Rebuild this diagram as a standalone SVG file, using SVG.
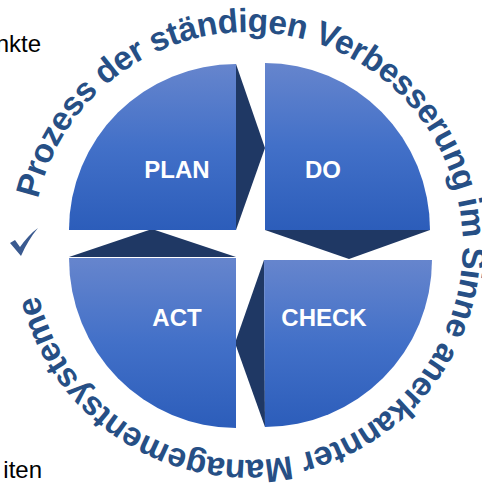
<svg xmlns="http://www.w3.org/2000/svg" width="482" height="486" viewBox="0 0 482 486">
<style>
text{font-family:"Liberation Sans",Arial,sans-serif}
.q{fill:url(#g)}
.a{fill:#1f3864}
.l{fill:#fff;font-weight:700;font-size:24px;text-anchor:middle}
.b{fill:#000;font-size:24px;text-anchor:end}
.r{fill:#264f85;font-weight:700;font-size:33.5px}
</style>
<defs>
<linearGradient id="g" x1="0" y1="0" x2="0" y2="1"><stop offset="0" stop-color="#6685cd"/><stop offset=".5" stop-color="#4270c8"/><stop offset="1" stop-color="#2c5dba"/></linearGradient>
<path id="ring" d="M38 199A215 214 0 1 1 38 293"/>
</defs>
<rect width="482" height="486" fill="#fff"/>
<text class="b" x="41" y="52">nkte</text>
<text class="b" x="42" y="478">iten</text>
<path d="M10 243L15 240L20 247C25 240 31 233 38 228C31 236 26 245 21 256Z" fill="#3a5a90"/>
<g id="connectors">
<path class="a" d="M236 64L265 148L236 230Z"/>
<path class="a" d="M265 230H430L349 259Z"/>
<path class="a" d="M264 260L235 343L265 427Z"/>
<path class="a" d="M69 257L152 229L236 257Z"/>
</g>
<g id="plan"><path class="q" d="M236 64V230H69A167 166 0 0 1 236 64Z"/><text class="l" x="177" y="178">PLAN</text></g>
<g id="do"><path class="q" d="M265 63V230H430A165 167 0 0 0 265 63Z"/><text class="l" x="323" y="178">DO</text></g>
<g id="check"><path class="q" d="M264 260H432A167 167 0 0 1 265 427Z"/><text class="l" x="324" y="326">CHECK</text></g>
<g id="act"><path class="q" d="M69 258H236V428A167 170 0 0 1 69 258Z"/><text class="l" x="177" y="326">ACT</text></g>
<g id="ring-label"><text class="r" textLength="1250"><textPath href="#ring">Prozess der ständigen Verbesserung im Sinne anerkannter Managementsysteme</textPath></text></g>
</svg>
